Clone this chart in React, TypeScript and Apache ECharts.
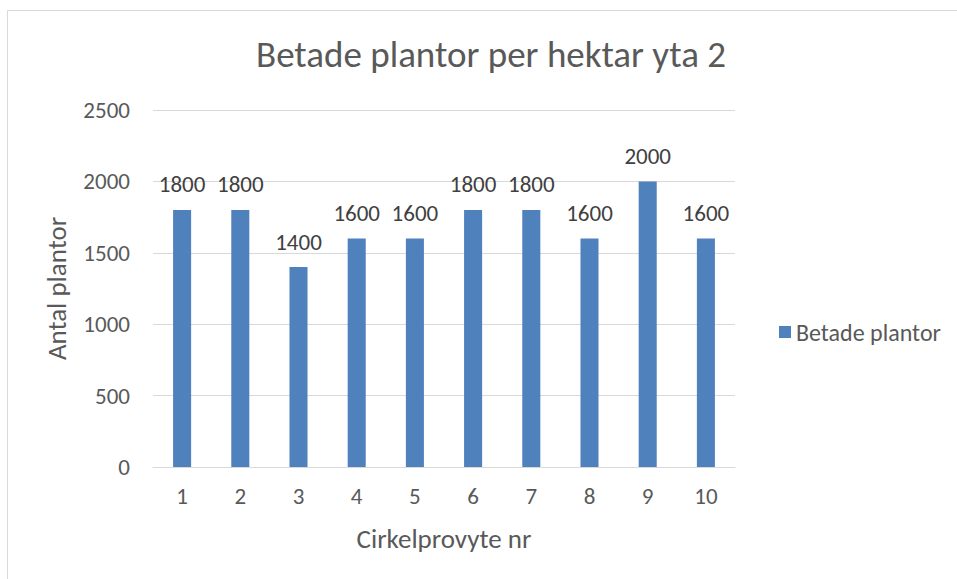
import React, { useEffect, useRef } from "react";
import * as echarts from "echarts";

const categories = ["1", "2", "3", "4", "5", "6", "7", "8", "9", "10"];
const betadePlantor = [1800, 1800, 1400, 1600, 1600, 1800, 1800, 1600, 2000, 1600];
const seriesName = "Betade plantor";
const titleText = "Betade plantor per hektar yta 2";
const yAxisName = "Antal plantor";
const xAxisName = "Cirkelprovyte nr";

const FONT = "Carlito, Calibri, 'Open Sans', 'Liberation Sans', sans-serif";
const GREY = "#595959";

export default function App() {
  const ref = useRef<HTMLDivElement>(null);
  useEffect(() => {
    const chart = echarts.init(ref.current!, null, { renderer: "svg" });
    chart.setOption({
      animation: false,
      textStyle: { fontFamily: FONT, color: GREY },
      graphic: [
        {
          type: "rect",
          shape: { x: 7.5, y: 10.5, width: 1000, height: 700 },
          style: { fill: "none", stroke: "#d9d9d9", lineWidth: 1 },
          silent: true,
        },
      ],
      title: {
        text: titleText,
        left: 486,
        top: 31,
        textAlign: "center",
        textStyle: { fontFamily: FONT, fontSize: 37, fontWeight: "normal", color: GREY },
      },
      legend: {
        data: [seriesName],
        left: 774,
        top: 315,
        icon: "rect",
        itemWidth: 12,
        itemHeight: 12,
        itemGap: 6,
        textStyle: { fontFamily: FONT, fontSize: 24, color: GREY },
      },
      grid: { left: 153, right: 222, top: 110, bottom: 112, containLabel: false },
      xAxis: {
        type: "category",
        data: categories,
        name: xAxisName,
        nameLocation: "middle",
        nameGap: 58,
        nameTextStyle: { fontFamily: FONT, fontSize: 27, color: GREY },
        axisLine: { lineStyle: { color: "#d9d9d9", width: 1 } },
        axisTick: { show: false },
        axisLabel: { fontFamily: FONT, fontSize: 23, color: GREY, margin: 17 },
      },
      yAxis: {
        type: "value",
        min: 0,
        max: 2500,
        interval: 500,
        name: yAxisName,
        nameLocation: "middle",
        nameGap: 83,
        nameTextStyle: { fontFamily: FONT, fontSize: 27, color: GREY },
        axisLine: { show: false },
        axisTick: { show: false },
        axisLabel: {
          fontFamily: FONT,
          fontSize: 23,
          color: GREY,
          margin: 23,
          formatter: (v: number) => String(v),
        },
        splitLine: { lineStyle: { color: "#d9d9d9", width: 1 } },
      },
      series: [
        {
          name: seriesName,
          type: "bar",
          data: betadePlantor,
          barWidth: "31%",
          itemStyle: { color: "#4F81BD" },
          label: {
            show: true,
            position: "top",
            distance: 14,
            fontFamily: FONT,
            fontSize: 23,
            color: "#404040",
          },
        },
      ],
    });
    return () => chart.dispose();
  }, []);
  return (
    <div
      ref={ref}
      style={{ position: "fixed", left: 0, top: 0, width: 957, height: 579, background: "#fff" }}
    />
  );
}
